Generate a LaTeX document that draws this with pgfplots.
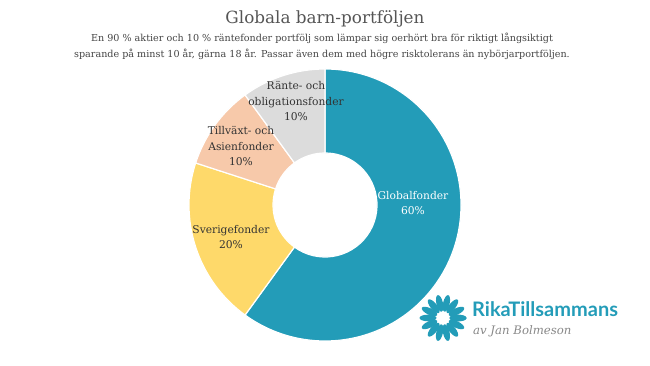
\documentclass[border=0pt]{standalone}
\usepackage{pgfplots}
\pgfplotsset{compat=1.18}
\usepackage{pgfplotstable}
\usepackage{fontspec}
\setmainfont{DejaVu Serif}
\newfontfamily\logofont{Lato}
\definecolor{c0}{HTML}{239CB8}
\definecolor{c1}{HTML}{FED96A}
\definecolor{c2}{HTML}{F7C9AA}
\definecolor{c3}{HTML}{DCDCDC}
\definecolor{titlegray}{HTML}{555555}
\definecolor{subgray}{HTML}{444444}
\definecolor{txt}{HTML}{333333}
\definecolor{logogray}{HTML}{888888}
\pgfplotstableread{
name value
Globalfonder 60
Sverigefonder 20
Tillvaxt 10
Rante 10
}\datatable
\begin{document}
\begin{tikzpicture}
\begin{axis}[
  width=650pt, height=366pt, scale only axis,
  xmin=0, xmax=650, ymin=0, ymax=366,
  hide axis, clip=false,
]
\path (axis cs:0,0) rectangle (axis cs:650,366);
\def\cum{90}
\pgfplotsforeachungrouped \i in {0,...,3}{%
  \pgfplotstablegetelem{\i}{value}\of\datatable
  \pgfmathsetmacro\endang{\cum-3.6*\pgfplotsretval}%
  \edef\temp{\noexpand\fill[fill=c\i, draw=white, line width=1.2pt]
    ([shift={(\cum:136pt)}]axis cs:325,161) arc[start angle=\cum, end angle=\endang, radius=136pt]
    -- ([shift={(\endang:52pt)}]axis cs:325,161) arc[start angle=\endang, end angle=\cum, radius=52pt] -- cycle;}%
  \temp
  \global\let\cum\endang
}
% title and subtitle
\node[font=\fontsize{16.8}{18}\selectfont, text=titlegray] at (axis cs:325,347) {Globala barn-portföljen};
\node[font=\fontsize{9.6}{15.8}\selectfont, text=subgray, align=center] at (axis cs:322,320)
  {En 90 \% aktier och 10 \% räntefonder portfölj som lämpar sig oerhört bra för riktigt långsiktigt\\
   sparande på minst 10 år, gärna 18 år. Passar även dem med högre risktolerans än nybörjarportföljen.};
% labels
\node[font=\fontsize{10.7}{15.8}\selectfont, text=white, align=center] at (axis cs:413,163) {Globalfonder\\60\%};
\node[font=\fontsize{10.7}{15.8}\selectfont, text=txt, align=center] at (axis cs:231,129) {Sverigefonder\\20\%};
\node[font=\fontsize{10.7}{15.8}\selectfont, text=txt, align=center] at (axis cs:241,220) {Tillväxt- och\\Asienfonder\\10\%};
\node[font=\fontsize{10.7}{15.8}\selectfont, text=txt, align=center] at (axis cs:296,265) {Ränte- och\\obligationsfonder\\10\%};
% logo
\pgfplotsinvokeforeach{0,25.7,...,359}{
  \fill[c0] ([shift={(#1:15pt)}]axis cs:443,48) ellipse[x radius=8.5pt, y radius=3.3pt, rotate=#1];
}
\node[anchor=west, font=\logofont\bfseries\fontsize{20}{21}\selectfont, text=c0, inner sep=0pt] at (axis cs:472,57) {RikaTillsammans};
\node[anchor=west, font=\itshape\fontsize{11.7}{13}\selectfont, text=logogray, inner sep=0pt] at (axis cs:473,35) {av Jan Bolmeson};
\end{axis}
\end{tikzpicture}
\end{document}
